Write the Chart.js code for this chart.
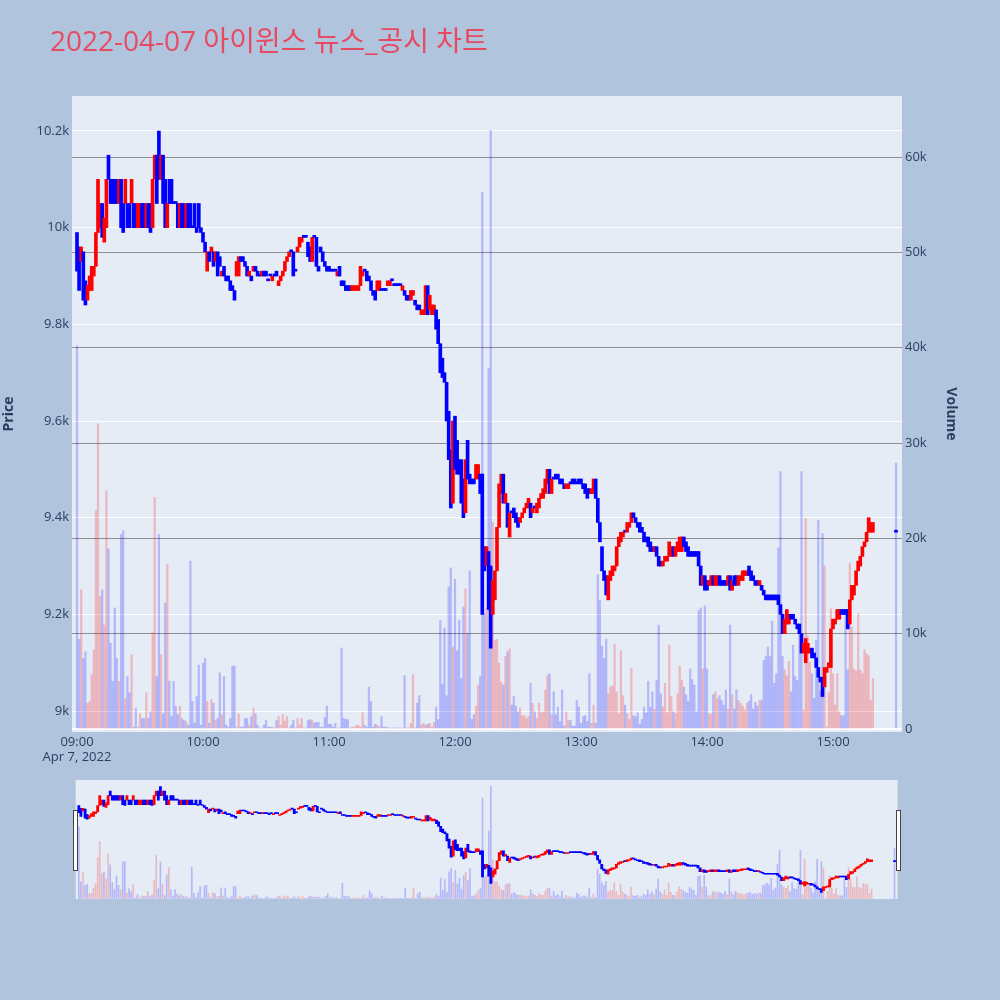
<!DOCTYPE html>
<html><head><meta charset="utf-8">
<script src="https://cdn.jsdelivr.net/npm/chart.js@4.4.1/dist/chart.umd.min.js"></script>
<style>
html,body{margin:0;padding:0;background:#b0c4de;width:1000px;height:1000px;overflow:hidden}
#main{position:absolute;left:0;top:0}
#mini{position:absolute;left:70px;top:774px}
</style></head><body>
<canvas id="main" width="1000" height="770"></canvas>
<canvas id="mini" width="835" height="132"></canvas>
<script>
const titleText = '2022-04-07 아이윈스 뉴스_공시 차트';
const dateLabel = 'Apr 7, 2022';
const xTickLabels = ['09:00','10:00','11:00','12:00','13:00','14:00','15:00'];
const xTickMinutes = [0,60,120,180,240,300,360];
const priceTicks = [9000,9200,9400,9600,9800,10000,10200];
const volumeTicks = [0,10,20,30,40,50,60]; // thousand shares

// minutes after 09:00 (one candle per minute 09:00-15:19, then the 15:30 close)
const minutes = [];
for (let i = 0; i < 380; i++) minutes.push(i);
minutes.push(390);

const opens = [
9990,9960,9930,9950,9890,9850,9870,9870,9900,9920,
9990,10000,10050,9970,10000,10150,10100,10100,10100,10100,
10050,10100,10050,10050,10050,10050,10050,10050,10050,10000,
10000,10050,10050,10000,10050,10050,10000,10100,10150,10200,
10100,10150,10100,10000,10100,10100,10050,10050,10050,10000,
10050,10050,10000,10050,10050,10000,10050,10000,10050,10000,
9990,9970,9910,9950,9950,9950,9930,9950,9940,9900,
9920,9900,9900,9890,9880,9870,9900,9900,9940,9940,
9930,9920,9900,9900,9910,9920,9910,9900,9900,9910,
9910,9890,9900,9890,9900,9910,9880,9890,9900,9910,
9930,9940,9950,9950,9910,9950,9960,9970,9980,9980,
9970,9960,9930,9980,9980,9920,9960,9950,9930,9920,
9920,9910,9910,9910,9900,9920,9890,9890,9880,9880,
9880,9870,9870,9870,9870,9880,9900,9910,9910,9900,
9890,9870,9870,9870,9870,9870,9870,9870,9880,9880,
9890,9880,9880,9880,9880,9870,9870,9860,9860,9850,
9860,9850,9840,9840,9820,9820,9820,9880,9830,9820,
9820,9830,9810,9760,9730,9700,9680,9620,9540,9430,
9610,9560,9520,9520,9480,9410,9560,9490,9480,9480,
9480,9480,9490,9490,9340,9300,9330,9300,9200,9230,
9290,9380,9450,9490,9430,9430,9360,9410,9420,9410,
9400,9390,9400,9410,9420,9420,9430,9410,9420,9410,
9420,9440,9440,9450,9470,9500,9450,9480,9490,9490,
9480,9480,9470,9460,9460,9470,9480,9480,9470,9480,
9480,9470,9470,9460,9460,9450,9450,9480,9440,9390,
9340,9290,9280,9230,9270,9280,9290,9300,9340,9350,
9360,9370,9370,9380,9390,9410,9400,9390,9390,9380,
9370,9360,9360,9350,9340,9330,9340,9320,9310,9300,
9310,9310,9320,9320,9340,9320,9330,9330,9330,9360,
9350,9340,9330,9330,9330,9330,9330,9300,9260,9280,
9270,9260,9260,9280,9260,9260,9280,9270,9270,9270,
9260,9280,9250,9280,9280,9260,9270,9270,9280,9280,
9300,9290,9280,9270,9270,9260,9260,9250,9240,9240,
9240,9240,9240,9240,9240,9220,9200,9160,9180,9180,
9200,9200,9190,9180,9180,9160,9120,9100,9120,9120,
9130,9120,9110,9090,9070,9070,9050,9080,9090,9090,
9170,9180,9190,9190,9210,9210,9210,9210,9180,9230,
9240,9260,9290,9300,9320,9340,9350,9370,9370,9370,
9370
];

const closes = [
9910,9870,9960,9850,9840,9880,9900,9920,9920,9990,
10100,10050,9980,10020,10100,10100,10050,10050,10050,10050,
10100,10000,9990,10100,10000,10000,10100,10000,10000,10050,
10050,10000,10000,10050,10000,9990,10100,10150,10050,10100,
10150,10050,10000,10050,10050,10050,10050,10050,10000,10050,
10000,10000,10050,10000,10000,10000,10000,9990,10000,9990,
9970,9950,9950,9930,9960,9920,9950,9900,9920,9910,
9900,9890,9890,9870,9870,9850,9930,9940,9930,9930,
9920,9900,9910,9890,9920,9910,9900,9900,9910,9900,
9900,9890,9900,9900,9900,9900,9890,9900,9910,9930,
9940,9950,9950,9900,9910,9960,9980,9980,9980,9980,
9940,9930,9980,9980,9920,9910,9950,9930,9920,9910,
9910,9910,9910,9910,9910,9900,9880,9880,9870,9870,
9870,9880,9880,9880,9880,9920,9910,9910,9890,9890,
9870,9860,9850,9890,9890,9870,9870,9870,9890,9890,
9890,9880,9880,9880,9880,9880,9860,9850,9850,9870,
9870,9840,9830,9830,9830,9830,9880,9820,9860,9840,
9840,9790,9760,9700,9690,9680,9600,9520,9420,9600,
9500,9490,9490,9430,9400,9520,9480,9470,9470,9470,
9510,9510,9450,9200,9290,9340,9210,9130,9270,9290,
9380,9470,9490,9430,9450,9380,9410,9410,9400,9390,
9380,9400,9410,9420,9430,9440,9400,9420,9420,9430,
9440,9450,9460,9480,9500,9450,9480,9480,9480,9480,
9470,9470,9460,9470,9470,9470,9470,9470,9470,9470,
9470,9460,9450,9440,9450,9460,9480,9440,9390,9350,
9290,9270,9240,9280,9290,9300,9300,9340,9360,9370,
9370,9370,9390,9390,9410,9400,9390,9380,9370,9370,
9350,9350,9340,9330,9330,9340,9320,9300,9300,9310,
9320,9320,9350,9340,9320,9340,9350,9360,9360,9340,
9330,9320,9320,9320,9320,9320,9300,9260,9280,9250,
9250,9270,9280,9260,9280,9280,9260,9260,9260,9260,
9280,9250,9270,9260,9260,9280,9280,9290,9290,9290,
9280,9270,9270,9260,9260,9270,9250,9240,9230,9230,
9230,9230,9230,9230,9220,9200,9160,9190,9210,9200,
9190,9190,9180,9170,9160,9120,9140,9150,9140,9130,
9110,9110,9090,9070,9060,9030,9090,9090,9100,9170,
9190,9190,9210,9210,9200,9200,9200,9170,9230,9260,
9260,9290,9310,9320,9340,9350,9370,9400,9390,9390,
9370
];

// volume, thousand shares
const volumesK = [
40.2,9.4,14.6,7.4,8.1,2.7,2.9,5.7,8.3,22.9,
32.0,13.9,14.6,10.9,25.0,18.9,9.0,5.0,12.7,7.4,
5.0,20.4,20.8,3.2,5.5,3.8,7.8,0.2,2.2,0.2,
1.6,1.1,1.1,3.8,1.1,1.8,10.1,24.3,5.5,20.4,
7.8,1.6,13.2,17.3,5.0,1.3,5.0,2.4,1.5,2.4,
1.1,0.9,0.8,0.4,17.6,2.9,0.6,3.4,6.7,0.4,
6.9,7.4,2.9,0.6,3.1,2.7,0.9,1.1,5.9,1.5,
5.5,0.4,0.2,1.1,6.6,6.6,0.2,1.6,0.2,0.2,
1.1,1.1,0.4,1.3,2.2,1.6,0.4,0.1,0.1,0.4,
0.9,0.2,0.2,0.2,0.1,0.9,1.3,0.4,1.5,0.8,
1.3,0.1,0.4,0.9,0.1,1.1,0.4,1.1,0.1,0.1,
0.9,1.0,0.9,0.6,0.7,0.7,0.2,0.2,1.2,2.4,
0.5,0.5,0.2,0.6,0.1,0.1,8.5,1.1,1.0,1.0,
0.1,0.2,0.2,0.4,0.4,0.2,1.7,0.4,0.2,4.4,
2.9,0.2,0.5,0.4,0.2,1.3,0.2,0.2,0.2,0.1,
0.1,0.1,0.1,0.1,0.1,0.1,5.6,0.1,0.1,0.6,
5.7,0.1,2.7,3.5,0.4,0.6,0.4,0.5,0.6,0.2,
0.7,2.3,1.0,11.4,4.7,10.6,3.5,14.9,16.9,8.6,
15.7,8.2,11.4,5.3,12.8,14.7,10.0,16.6,1.0,1.5,
2.4,4.6,5.5,56.3,12.1,12.7,37.8,62.8,21.7,9.3,
9.4,6.9,4.9,4.6,7.6,8.1,8.4,2.5,3.4,2.4,
1.8,2.2,1.4,1.4,1.1,1.3,4.8,2.7,1.8,1.1,
2.7,1.7,1.8,4.1,5.6,5.8,1.5,3.9,1.5,2.3,
0.8,4.1,0.3,1.8,0.9,0.9,0.3,0.3,3.0,2.3,
0.6,1.3,1.4,0.8,5.8,0.6,2.5,0.6,16.2,13.5,
8.7,7.4,9.4,3.7,4.4,4.5,8.9,3.9,1.6,8.2,
3.5,2.5,1.6,1.0,6.4,1.4,1.3,1.7,0.5,1.0,
2.3,1.7,5.0,2.3,3.9,2.1,5.1,10.9,3.7,2.3,
4.8,1.7,8.8,3.4,1.8,1.6,3.7,6.6,5.1,4.4,
3.6,2.9,6.3,5.2,4.6,1.8,12.4,12.7,6.3,12.9,
6.3,1.6,1.6,3.6,3.9,3.2,3.5,3.0,2.5,4.1,
2.1,10.9,3.6,2.1,4.1,3.0,2.7,2.4,2.0,2.7,
2.9,3.6,2.1,2.8,2.4,3.0,3.0,7.2,7.6,8.6,
7.6,11.3,4.8,5.8,19.0,27.0,7.6,6.2,5.6,7.1,
3.9,8.8,5.5,5.1,10.7,27.0,2.0,22.1,9.8,7.0,
5.8,3.2,9.3,21.9,4.0,20.5,17.1,0.2,3.8,12.6,
5.8,2.5,5.8,1.8,1.4,1.4,12.1,6.2,17.4,10.7,
6.3,6.1,12.1,6.2,5.8,8.3,7.9,7.7,3.0,5.3,
27.9
];

const FONT = '"Open Sans", "Noto Sans CJK KR", "Noto Sans", sans-serif';
const TXT = '#2a3f5f';
const UP = '#ff0000', DOWN = '#0000ff';
const UP_VOL = 'rgba(255,0,0,0.22)', DOWN_VOL = 'rgba(0,0,255,0.22)';

const isUp = closes.map((c, i) => c > opens[i]);
const candleData = minutes.map((m, i) => ({ x: m, y: [opens[i], closes[i]] }));
const volumeData = minutes.map((m, i) => ({ x: m, y: volumesK[i] }));
const candleColors = isUp.map(u => u ? UP : DOWN);
const volumeColors = isUp.map(u => u ? UP_VOL : DOWN_VOL);

const plotBg = {
  id: 'plotBg',
  beforeDraw(chart) {
    const { ctx, chartArea: a } = chart;
    ctx.save();
    ctx.fillStyle = '#e5ecf6';
    ctx.fillRect(a.left, a.top, a.right - a.left, a.bottom - a.top);
    ctx.restore();
  }
};
const titleShift = {
  id: 'titleShift',
  afterLayout(chart) { if (chart.titleBlock) chart.titleBlock.left = 50; }
};
const setTicks = vals => s => { s.ticks = vals.map(v => ({ value: v })); };

new Chart(document.getElementById('main'), {
  type: 'bar',
  data: {
    datasets: [
      { label: 'Price', data: candleData, yAxisID: 'y', backgroundColor: candleColors,
        barThickness: 3, minBarLength: 2, grouped: false, order: 1, borderWidth: 0 },
      { label: 'Volume', data: volumeData, yAxisID: 'y1', backgroundColor: volumeColors,
        barThickness: 1.6, grouped: false, order: 2, borderWidth: 0 }
    ]
  },
  options: {
    responsive: false,
    animation: false,
    layout: { padding: { left: 0, right: 40, top: 0, bottom: 0 } },
    plugins: {
      legend: { display: false },
      tooltip: { enabled: false },
      title: { display: true, text: titleText, align: 'start', color: '#e84a62',
        font: { family: FONT, size: 28, weight: 'normal', lineHeight: 1.2 },
        padding: { top: 26, bottom: 36.4 } }
    },
    scales: {
      x: {
        type: 'linear', min: -2.38, max: 392.86, offset: false,
        grid: { display: false, drawTicks: false }, border: { display: false },
        afterBuildTicks: setTicks(xTickMinutes),
        afterFit: s => { s.height = 38; },
        ticks: { color: TXT, font: { family: FONT, size: 13 }, padding: 2, maxRotation: 0, autoSkip: false,
          callback: (v, i) => i === 0 ? [xTickLabels[i], dateLabel] : xTickLabels[i] }
      },
      y: {
        type: 'linear', position: 'left', min: 8956.6, max: 10272.4,
        afterBuildTicks: setTicks(priceTicks),
        afterFit: s => { s.width = 72; },
        grid: { color: '#ffffff', lineWidth: 1, drawTicks: false }, border: { display: false },
        ticks: { color: TXT, font: { family: FONT, size: 13 }, padding: 3, callback: v => (v / 1000) + 'k' },
        title: { display: true, text: 'Price', color: TXT, font: { family: FONT, size: 14, weight: 'bold' }, padding: { top: 1, bottom: 0 } }
      },
      y1: {
        type: 'linear', position: 'right', min: -0.315, max: 66.4,
        afterBuildTicks: setTicks(volumeTicks),
        afterFit: s => { s.width = 58; },
        grid: { color: c => (c.tick && c.tick.value === 0) ? '#ffffff' : '#8e8e8e',
                lineWidth: c => (c.tick && c.tick.value === 0) ? 2 : 1, drawTicks: false },
        border: { display: false },
        ticks: { color: TXT, font: { family: FONT, size: 13 }, padding: 3, callback: v => v === 0 ? '0' : v + 'k' },
        title: { display: true, text: 'Volume', color: TXT, font: { family: FONT, size: 14, weight: 'bold' }, padding: { top: 1, bottom: 0 } }
      }
    }
  },
  plugins: [plotBg, titleShift]
});

const sliderHandles = {
  id: 'sliderHandles',
  afterDraw(chart) {
    const { ctx } = chart;
    ctx.save();
    ctx.fillStyle = '#ffffff';
    ctx.strokeStyle = '#444444';
    ctx.lineWidth = 1;
    [[3.5, 36.5], [826.5, 36.5]].forEach(([x, y]) => {
      ctx.fillRect(x, y, 4, 60);
      ctx.strokeRect(x, y, 4, 60);
    });
    ctx.restore();
  }
};

new Chart(document.getElementById('mini'), {
  type: 'bar',
  data: {
    datasets: [
      { data: candleData, yAxisID: 'y', backgroundColor: candleColors,
        barThickness: 2.2, minBarLength: 1, grouped: false, order: 1, borderWidth: 0 },
      { data: volumeData, yAxisID: 'y1', backgroundColor: volumeColors,
        barThickness: 1, grouped: false, order: 2, borderWidth: 0 }
    ]
  },
  options: {
    responsive: false,
    animation: false,
    layout: { padding: { left: 5.7, right: 7.3, top: 6, bottom: 7 } },
    plugins: { legend: { display: false }, tooltip: { enabled: false }, title: { display: false } },
    scales: {
      x: { type: 'linear', display: false, offset: false, min: -1.5, max: 391.5 },
      y: { type: 'linear', display: false, min: 8956.6, max: 10272.4 },
      y1: { type: 'linear', display: false, position: 'right', min: -0.315, max: 66.4 }
    }
  },
  plugins: [plotBg, sliderHandles]
});
</script>
</body></html>
